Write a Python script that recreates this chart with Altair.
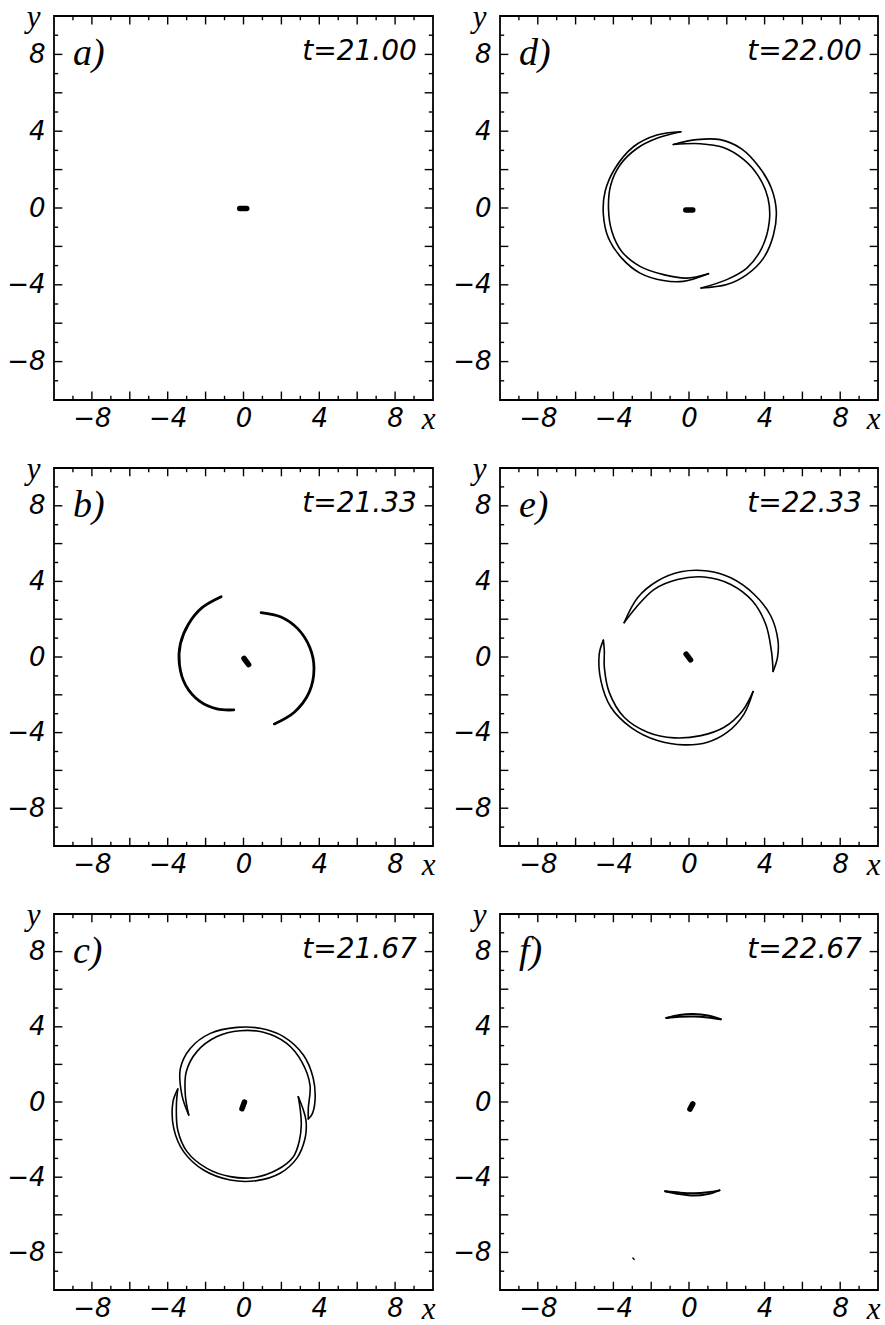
import altair as alt
import pandas as pd

# ---------------- axis / tick values ----------------
DOMAIN = [-10, 10]
LABEL_VALUES = [-8, -4, 0, 4, 8]
MAJOR_TICKS = [-8, -6, -4, -2, 0, 2, 4, 6, 8]
MINOR_TICKS = [-9, -7, -5, -3, -1, 1, 3, 5, 7, 9]

PANEL_LETTERS = ["a)", "b)", "c)", "d)", "e)", "f)"]
PANEL_TIMES = ["t=21.00", "t=21.33", "t=21.67", "t=22.00", "t=22.33", "t=22.67"]

# ---------------- central cores (thick strokes) ----------------
A_CORE = [(-0.20, -0.03), (0.17, -0.03)]
B_CORE = [(0.03, -0.08), (0.27, -0.40)]
C_CORE = [(0.05, 0.00), (-0.08, -0.36)]
D_CORE = [(-0.17, -0.10), (0.20, -0.10)]
E_CORE = [(-0.15, 0.15), (0.08, -0.15)]
F_CORE = [(0.20, -0.10), (0.05, -0.38)]
F_SPECK = [(-2.97, -8.30), (-2.90, -8.38)]

# ---------------- panel b arcs ----------------
B_LEFT = [(-1.18, 3.19), (-2.20, 2.60), (-2.90, 1.75), (-3.33, 0.70), (-3.38, -0.40),
          (-3.05, -1.50), (-2.30, -2.35), (-1.40, -2.75), (-0.51, -2.80)]
B_RIGHT = [(0.93, 2.35), (1.98, 2.12), (2.86, 1.50), (3.50, 0.50), (3.72, -0.60),
           (3.47, -1.86), (2.68, -2.92), (1.63, -3.54)]

# ---------------- panel c crescents ----------------
C_A_OUTER = [(-2.89, -0.69), (-3.25, 0.37), (-3.33, 1.79), (-2.81, 2.85), (-1.75, 3.65),
             (-0.35, 3.97), (0.88, 3.92), (2.11, 3.48), (3.16, 2.50), (3.68, 1.26),
             (3.77, 0.02), (3.60, -0.69), (3.42, -0.90)]
C_A_INNER = [(3.42, -0.90), (3.42, -0.34), (3.51, 0.90), (3.07, 2.15), (2.28, 3.12),
             (1.05, 3.71), (-0.18, 3.79), (-1.40, 3.48), (-2.46, 2.68), (-3.02, 1.61),
             (-3.07, 0.37), (-2.89, -0.69)]
C_B_OUTER = [(-3.47, 0.69), (-3.72, 0.02), (-3.68, -1.40), (-3.16, -2.64), (-2.11, -3.62),
             (-0.70, -4.15), (0.70, -4.18), (1.93, -3.79), (2.81, -3.00), (3.25, -1.93),
             (3.30, -1.00), (3.15, -0.40), (2.89, 0.28)]
C_B_INNER = [(2.89, 0.28), (3.00, -0.45), (3.05, -1.20), (2.95, -2.05), (2.63, -2.91),
             (1.75, -3.62), (0.53, -4.02), (-0.70, -3.97), (-1.93, -3.53), (-2.98, -2.64),
             (-3.47, -1.49), (-3.54, -0.16), (-3.47, 0.69)]

# ---------------- panel d crescents ----------------
D_L_OUTER = [(-0.43, 3.97), (-1.70, 3.80), (-2.94, 3.19), (-3.91, 2.07), (-4.44, 0.86),
             (-4.53, -0.35), (-4.26, -1.57), (-3.56, -2.61), (-2.59, -3.39), (-1.35, -3.78),
             (-0.30, -3.82), (1.03, -3.42)]
D_L_INNER = [(1.03, -3.42), (-0.12, -3.65), (-1.35, -3.47), (-2.59, -3.04), (-3.56, -2.26),
             (-4.08, -1.22), (-4.26, -0.01), (-4.14, 1.20), (-3.65, 2.24), (-2.76, 3.10),
             (-1.70, 3.63), (-0.43, 3.97)]
D_R_OUTER = [(-0.83, 3.31), (0.41, 3.56), (1.65, 3.56), (2.78, 3.08), (3.72, 2.12),
             (4.36, 1.03), (4.62, -0.18), (4.47, -1.39), (3.94, -2.61), (3.06, -3.47),
             (2.00, -3.99), (0.64, -4.17)]
D_R_INNER = [(0.64, -4.17), (2.00, -3.73), (3.06, -3.13), (3.85, -2.09), (4.25, -0.70),
             (4.18, 0.51), (3.68, 1.65), (2.90, 2.52), (1.82, 3.15), (0.59, 3.35),
             (-0.83, 3.31)]

# ---------------- panel e crescents ----------------
E_T_OUTER = [(-3.43, 1.82), (-2.72, 3.14), (-1.67, 4.02), (-0.43, 4.51), (0.98, 4.55),
             (2.21, 4.19), (3.44, 3.32), (4.33, 2.17), (4.71, 0.85), (4.68, -0.03),
             (4.45, -0.76)]
E_T_INNER = [(4.45, -0.76), (4.36, 0.32), (4.06, 1.73), (3.36, 2.96), (2.21, 3.84),
             (0.80, 4.23), (-0.61, 4.10), (-1.84, 3.58), (-2.81, 2.61), (-3.43, 1.82)]
E_B_OUTER = [(-4.53, 0.89), (-4.75, 0.15), (-4.66, -1.26), (-4.13, -2.66), (-3.08, -3.72),
             (-1.67, -4.42), (-0.26, -4.65), (0.98, -4.51), (2.03, -3.98), (2.91, -3.02),
             (3.39, -1.83)]
E_B_INNER = [(3.39, -1.83), (2.83, -2.84), (1.86, -3.72), (0.63, -4.16), (-0.78, -4.28),
             (-2.19, -3.98), (-3.43, -3.19), (-4.22, -1.87), (-4.48, -0.55), (-4.48, 0.33),
             (-4.53, 0.89)]

# ---------------- panel f lenses ----------------
F_T_UPPER = [(-1.20, 4.47), (-0.50, 4.63), (0.24, 4.68), (1.00, 4.60), (1.68, 4.40)]
F_T_LOWER = [(-1.20, 4.47), (-0.50, 4.53), (0.24, 4.55), (1.00, 4.50), (1.68, 4.40)]
F_B_UPPER = [(-1.26, -4.75), (-0.50, -4.82), (0.24, -4.85), (1.00, -4.80), (1.61, -4.70)]
F_B_LOWER = [(-1.26, -4.75), (-0.50, -4.90), (0.24, -4.98), (1.00, -4.90), (1.61, -4.70)]

CORE_W = 5.5
THIN_W = 1.6
ARC_W = 2.8

PANEL_CURVES = [
    [(A_CORE, CORE_W)],
    [(B_CORE, CORE_W), (B_LEFT, ARC_W), (B_RIGHT, ARC_W)],
    [(C_CORE, CORE_W), (C_A_OUTER, THIN_W), (C_A_INNER, THIN_W), (C_B_OUTER, THIN_W), (C_B_INNER, THIN_W)],
    [(D_CORE, CORE_W), (D_L_OUTER, THIN_W), (D_L_INNER, THIN_W), (D_R_OUTER, THIN_W), (D_R_INNER, THIN_W)],
    [(E_CORE, CORE_W), (E_T_OUTER, THIN_W), (E_T_INNER, THIN_W), (E_B_OUTER, THIN_W), (E_B_INNER, THIN_W)],
    [(F_CORE, CORE_W), (F_T_UPPER, 2.0), (F_T_LOWER, 2.0), (F_B_UPPER, 2.0), (F_B_LOWER, 2.0),
     (F_SPECK, 1.3)],
]

MAJOR_LEN = 0.44
MINOR_LEN = 0.22

LABEL_FONT = "DejaVu Sans"
LETTER_FONT = "Liberation Serif"


def tick_frame():
    rows = []
    lo, hi = DOMAIN
    for vals, L in ((MAJOR_TICKS, MAJOR_LEN), (MINOR_TICKS, MINOR_LEN)):
        for t in vals:
            rows.append(dict(x=t, x2=t, y=lo, y2=lo + L))
            rows.append(dict(x=t, x2=t, y=hi, y2=hi - L))
            rows.append(dict(x=lo, x2=lo + L, y=t, y2=t))
            rows.append(dict(x=hi, x2=hi - L, y=t, y2=t))
    return pd.DataFrame(rows)


def panel(idx, w, h):
    rows = []
    for s, (pts, sw) in enumerate(PANEL_CURVES[idx]):
        for i, (x, y) in enumerate(pts):
            rows.append(dict(seg=s, i=i, x=x, y=y, w=sw))
    df = pd.DataFrame(rows)

    sc = alt.Scale(domain=DOMAIN, nice=False, zero=False)
    xaxis = alt.Axis(values=LABEL_VALUES, ticks=False, domain=False, grid=False,
                     labelFont=LABEL_FONT, labelFontSize=26, labelFontStyle="italic",
                     labelColor="black", labelPadding=5, labelFlush=False,
                     title="x", titleFont=LETTER_FONT, titleFontSize=31,
                     titleFontStyle="italic", titleFontWeight="normal", titleColor="black",
                     titleAlign="right", titleBaseline="middle", titleX=w + 2, titleY=19)
    yaxis = alt.Axis(values=LABEL_VALUES, ticks=False, domain=False, grid=False,
                     labelFont=LABEL_FONT, labelFontSize=26, labelFontStyle="italic",
                     labelColor="black", labelPadding=9, labelFlush=False,
                     title="y", titleFont=LETTER_FONT, titleFontSize=31,
                     titleFontStyle="italic", titleFontWeight="normal", titleColor="black",
                     titleAngle=0, titleAlign="center", titleBaseline="middle",
                     titleX=-21, titleY=1)
    X = alt.X("x:Q", scale=sc, axis=xaxis)
    Y = alt.Y("y:Q", scale=sc, axis=yaxis)

    lines = alt.Chart(df).mark_line(color="black", strokeCap="round", strokeJoin="round",
                                    interpolate="catmull-rom").encode(
        x=X, y=Y, detail="seg:N", order="i:Q",
        strokeWidth=alt.StrokeWidth("w:Q", scale=None, legend=None))

    ticks = alt.Chart(tick_frame()).mark_rule(color="black", strokeWidth=1.4).encode(
        x=X, y=Y, x2="x2:Q", y2="y2:Q")

    lab = pd.DataFrame([dict(x=-9.0, y=8.0, t=PANEL_LETTERS[idx])])
    letter = alt.Chart(lab).mark_text(font=LETTER_FONT, fontSize=38, fontStyle="italic",
                                      align="left", baseline="middle", color="black").encode(
        x=X, y=Y, text="t:N")

    tim = pd.DataFrame([dict(x=9.15, y=8.1, t=PANEL_TIMES[idx])])
    tlabel = alt.Chart(tim).mark_text(font=LABEL_FONT, fontSize=28, fontStyle="italic",
                                      align="right", baseline="middle", color="black").encode(
        x=X, y=Y, text="t:N")

    return alt.layer(lines, ticks, letter, tlabel).properties(width=w, height=h)


ROW_H = [384, 378, 376]
COL_W = [379, 378]
ORDER = [0, 3, 1, 4, 2, 5]   # a d / b e / c f
panels = [panel(p, COL_W[k % 2], ROW_H[k // 2]) for k, p in enumerate(ORDER)]

chart = alt.concat(*panels, columns=2, spacing={"row": 68, "column": 67},
                   bounds="flush").properties(
    padding={"left": 5, "top": 0, "right": 0, "bottom": 0},
    background="white",
).configure_view(stroke="black", strokeWidth=1.8)

chart.save("out.html", embed_options={"renderer": "svg", "actions": False})
